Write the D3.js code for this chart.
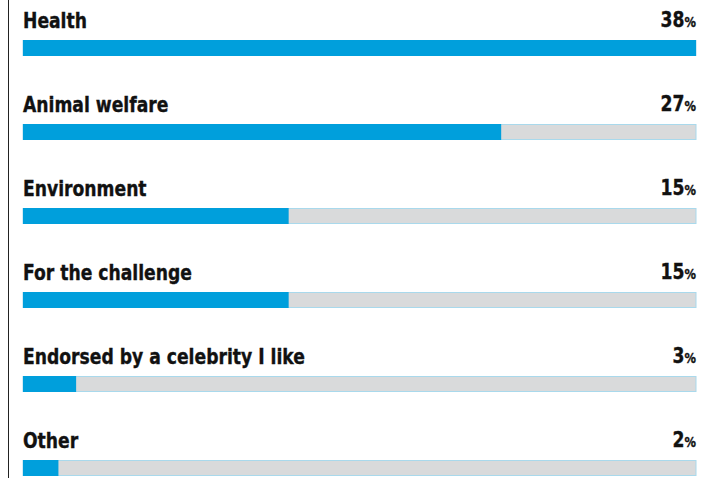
<!DOCTYPE html>
<html>
<head>
<meta charset="utf-8">
<script src="https://cdn.jsdelivr.net/npm/d3@7"></script>
<style>
  html, body { margin: 0; padding: 0; background: #fff; }
  svg { display: block; }
  .lbl { font-family: "Liberation Sans Narrow", "DejaVu Sans Condensed", "Roboto", sans-serif; font-weight: bold; fill: #111; stroke: #111; stroke-width: 0.35; }
</style>
</head>
<body>
<svg id="chart" width="718" height="478"></svg>
<script>
// Reasons for taking part
const categories = ["Health", "Animal welfare", "Environment", "For the challenge", "Endorsed by a celebrity I like", "Other"];
const shares = [38, 27, 15, 15, 3, 2];

const W = 718, H = 478;
const svg = d3.select("#chart");

const x = d3.scaleLinear().domain([0, d3.max(shares)]).range([23, 696]);
const y = d3.scalePoint().domain(categories).range([40, 460]);
const barH = 16;
const squeeze = 0.91; // narrow the label lettering horizontally

// left rule
svg.append("line")
  .attr("x1", 8.5).attr("x2", 8.5).attr("y1", 0).attr("y2", H)
  .attr("stroke", "#222").attr("stroke-width", 1);

const rows = svg.selectAll("g.row")
  .data(categories.map((c, i) => ({ c, v: shares[i] })))
  .join("g").attr("class", "row")
  .attr("transform", d => `translate(0,${y(d.c)})`);

// track
rows.append("rect")
  .attr("x", x(0)).attr("y", 0.5)
  .attr("width", x.range()[1] - x(0)).attr("height", barH - 1)
  .attr("fill", "#d9dadb").attr("stroke", "#a9d9ec").attr("stroke-width", 1);

// value bar
rows.append("rect")
  .attr("x", x(0)).attr("y", 0)
  .attr("width", d => x(d.v) - x(0)).attr("height", barH)
  .attr("fill", "#009fdc");

// category label
rows.append("g")
  .attr("transform", `translate(${x(0)},-12) scale(${squeeze},1)`)
  .append("text").attr("class", "lbl")
  .attr("font-size", 21)
  .text(d => d.c);

// percentage
const pct = rows.append("g")
  .attr("transform", `translate(${x.range()[1]},-13) scale(${squeeze},1)`)
  .append("text").attr("class", "lbl")
  .attr("text-anchor", "end")
  .attr("font-size", 21);
pct.append("tspan").text(d => d.v);
pct.append("tspan").attr("font-size", 14).text("%");
</script>
</body>
</html>
